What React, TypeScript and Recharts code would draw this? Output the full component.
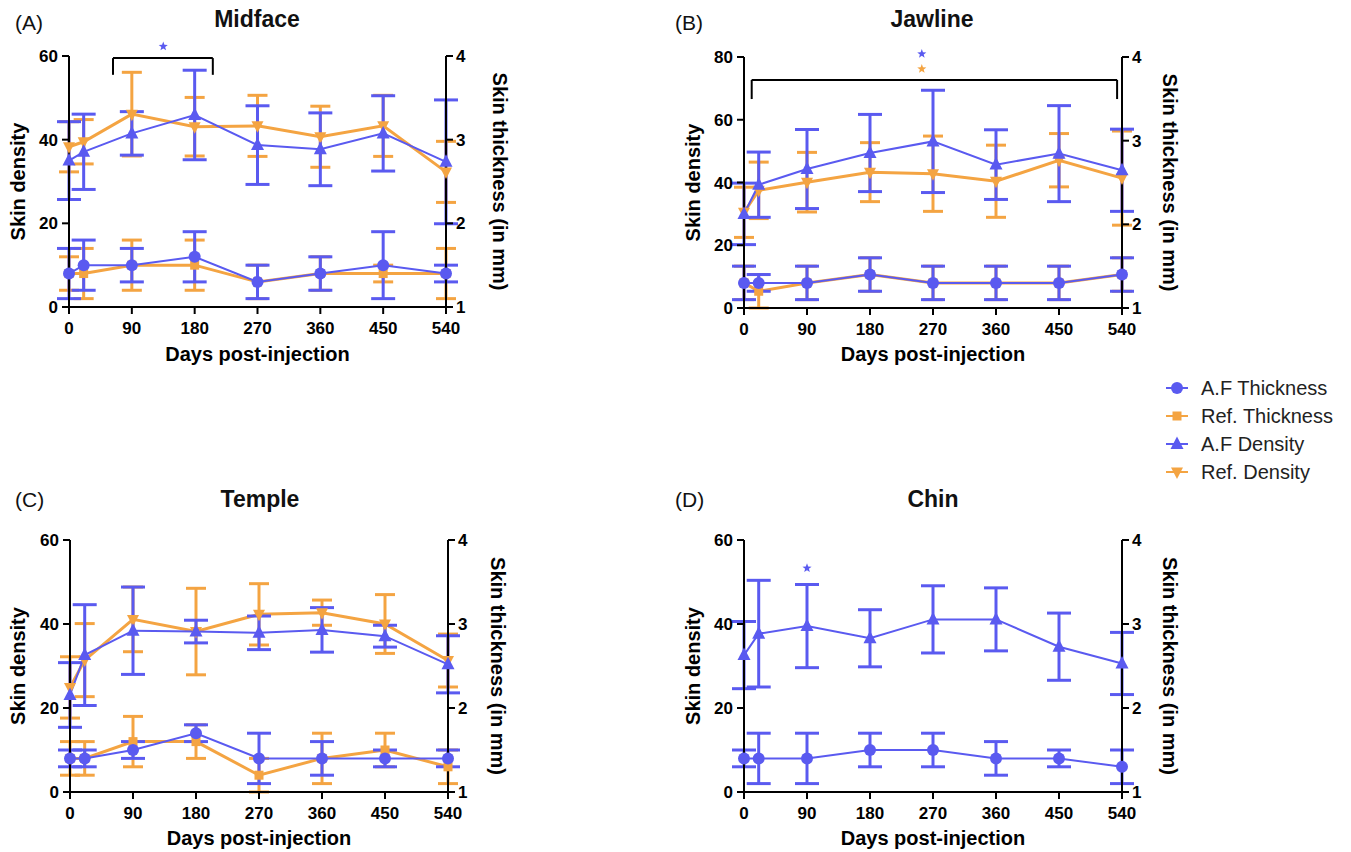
import React from 'react';
import { ComposedChart, Line, XAxis, YAxis, ErrorBar, ReferenceLine, ReferenceDot } from 'recharts';

// ---------- shared categories / ticks ----------
const days = [0, 21, 90, 180, 270, 360, 450, 540];
const xTicks = [0, 90, 180, 270, 360, 450, 540];
const densityTicks60 = [0, 20, 40, 60];
const densityTicks80 = [0, 20, 40, 60, 80];
const thicknessTicks = [1, 2, 3, 4];

// ---------- (A) Midface ----------
const midAfThickness = [1.4, 1.5, 1.5, 1.6, 1.3, 1.4, 1.5, 1.4];
const midAfThicknessSd = [0.3, 0.3, 0.2, 0.3, 0.2, 0.2, 0.4, 0.1];
const midRefThickness = [1.4, 1.4, 1.5, 1.5, 1.3, 1.4, 1.4, 1.4];
const midRefThicknessSd = [0.2, 0.3, 0.3, 0.3, 0.2, 0.2, 0.1, 0.3];
const midAfDensity = [35, 37.1, 41.5, 45.9, 38.7, 37.7, 41.5, 34.7];
const midAfDensitySd = [9.3, 9, 5.2, 10.7, 9.4, 8.7, 9, 14.8];
const midRefDensity = [38.3, 39.5, 46.1, 43.1, 43.3, 40.7, 43.3, 32.3];
const midRefDensitySd = [6, 5.3, 10, 7, 7.3, 7.3, 7.3, 7.3];

// ---------- (B) Jawline ----------
const jawAfThickness = [1.3, 1.3, 1.3, 1.4, 1.3, 1.3, 1.3, 1.4];
const jawAfThicknessSd = [0.2, 0.1, 0.2, 0.2, 0.2, 0.2, 0.2, 0.2];
const jawRefThickness = [1.3, 1.2, 1.3, 1.4, 1.3, 1.3, 1.3, 1.4];
const jawRefThicknessSd = [0.2, 0.2, 0.2, 0.2, 0.2, 0.2, 0.2, 0.2];
const jawAfDensity = [30, 39.3, 44.3, 49.4, 53.1, 45.7, 49.2, 43.9];
const jawAfDensitySd = [9.8, 10.4, 12.6, 12.3, 16.3, 11.1, 15.3, 13.1];
const jawRefDensity = [30.5, 37.5, 40.1, 43.3, 42.8, 40.4, 47.1, 41.4];
const jawRefDensitySd = [8, 9, 9.5, 9.4, 12, 11.5, 8.5, 15];

// ---------- (C) Temple ----------
const temAfThickness = [1.4, 1.4, 1.5, 1.7, 1.4, 1.4, 1.4, 1.4];
const temAfThicknessSd = [0.1, 0.1, 0.1, 0.1, 0.3, 0.2, 0.1, 0.1];
const temRefThickness = [1.4, 1.4, 1.6, 1.6, 1.2, 1.4, 1.5, 1.3];
const temRefThicknessSd = [0.2, 0.2, 0.3, 0.2, 0.2, 0.3, 0.2, 0.2];
const temAfDensity = [23.1, 32.6, 38.4, 38.2, 37.9, 38.6, 37.1, 30.4];
const temAfDensitySd = [7.7, 12, 10.4, 2.7, 4, 5.3, 2.6, 6.8];
const temRefDensity = [24.9, 31.4, 41.1, 38.2, 42.3, 42.7, 40, 31.3];
const temRefDensitySd = [7.3, 8.7, 7.7, 10.3, 7.3, 3, 7, 6.3];

// ---------- (D) Chin ----------
const chinAfThickness = [1.4, 1.4, 1.4, 1.5, 1.5, 1.4, 1.4, 1.3];
const chinAfThicknessSd = [0.1, 0.3, 0.3, 0.2, 0.2, 0.2, 0.1, 0.2];
const chinAfDensity = [32.6, 37.7, 39.5, 36.6, 41.1, 41.1, 34.6, 30.6];
const chinAfDensitySd = [8, 12.7, 9.9, 6.8, 8, 7.5, 8, 7.4];

// ---------- style ----------
const BLUE = '#5A5AF0';
const ORANGE = '#F4A442';
const FONT = '"Liberation Sans", Arial, Helvetica, sans-serif';

type Shape = 'circle' | 'square' | 'up' | 'down';

const seriesDefs = [
  { key: 'refT', name: 'Ref. Thickness', color: ORANGE, shape: 'square' as Shape, axis: 't', lw: 3, cap: 10, ref: true },
  { key: 'refD', name: 'Ref. Density', color: ORANGE, shape: 'down' as Shape, axis: 'd', lw: 3, cap: 10, ref: true },
  { key: 'afT', name: 'A.F Thickness', color: BLUE, shape: 'circle' as Shape, axis: 't', lw: 2, cap: 12, ref: false },
  { key: 'afD', name: 'A.F Density', color: BLUE, shape: 'up' as Shape, axis: 'd', lw: 2, cap: 12, ref: false },
];
const legendOrder = ['afT', 'refT', 'afD', 'refD'];

function buildRows(
  afT: number[], afTsd: number[], refT: number[] | null, refTsd: number[] | null,
  afD: number[], afDsd: number[], refD: number[] | null, refDsd: number[] | null
) {
  return days.map((day, i) => ({
    day,
    afT: afT[i], afTsd: afTsd[i],
    afD: afD[i], afDsd: afDsd[i],
    refT: refT ? refT[i] : null, refTsd: refTsd ? refTsd[i] : null,
    refD: refD ? refD[i] : null, refDsd: refDsd ? refDsd[i] : null,
  }));
}

function Marker({ shape, cx, cy, color }: { shape: Shape; cx?: number; cy?: number; color: string }) {
  if (cx == null || cy == null || isNaN(cx) || isNaN(cy)) return null;
  switch (shape) {
    case 'circle':
      return <circle cx={cx} cy={cy} r={6} fill={color} />;
    case 'square':
      return <rect x={cx - 4.5} y={cy - 4.5} width={9} height={9} fill={color} />;
    case 'up':
      return <path d={`M${cx},${cy - 7.5} L${cx + 6.5},${cy + 5} L${cx - 6.5},${cy + 5} Z`} fill={color} />;
    case 'down':
      return <path d={`M${cx},${cy + 7} L${cx + 6},${cy - 4.5} L${cx - 6},${cy - 4.5} Z`} fill={color} />;
  }
  return null;
}

function Star(props: any) {
  const { cx, cy, fill } = props;
  if (cx == null || cy == null) return null;
  const pts: string[] = [];
  for (let k = 0; k < 10; k++) {
    const r = k % 2 === 0 ? 4.8 : 2.0;
    const a = -Math.PI / 2 + (k * Math.PI) / 5;
    pts.push(`${cx + r * Math.cos(a)},${cy + r * Math.sin(a)}`);
  }
  return <polygon points={pts.join(' ')} fill={fill} />;
}

type Bracket = { x1: number; x2: number; y: number; yEnd: number };
type StarDef = { x: number; y: number; color: string };

type PanelCfg = {
  left: number; top: number; width: number; height: number;
  marginTop: number; leftW: number; rightW: number; xAxisH: number;
  xLabelOffset: number; leftLabelOffset: number; rightLabelOffset: number;
  yMax: number; yTicks: number[];
  brackets: Bracket[]; stars: StarDef[];
};

const tickStyle = { fill: '#000', fontSize: 17, fontWeight: 'bold' as const, fontFamily: FONT };
const axisLabelStyle = { fill: '#000', fontSize: 20, fontWeight: 'bold' as const, fontFamily: FONT };

function Panel({ cfg, rows, hasRef }: { cfg: PanelCfg; rows: any[]; hasRef: boolean }) {
  const axisLine = { stroke: '#000', strokeWidth: 2 };
  return (
    <div style={{ position: 'absolute', left: cfg.left, top: cfg.top }}>
      <ComposedChart
        width={cfg.width}
        height={cfg.height}
        data={rows}
        margin={{ top: cfg.marginTop, right: 0, bottom: 0, left: 0 }}
      >
        <XAxis
          dataKey="day"
          type="number"
          domain={[0, 540]}
          ticks={xTicks}
          height={cfg.xAxisH}
          axisLine={axisLine}
          tickLine={axisLine}
          tickSize={7}
          tickMargin={8}
          tick={tickStyle}
          interval={0}
          label={{
            value: 'Days post-injection',
            position: 'insideBottom',
            offset: cfg.xLabelOffset,
            ...axisLabelStyle,
          }}
        />
        <YAxis
          yAxisId="d"
          orientation="left"
          type="number"
          domain={[0, cfg.yMax]}
          ticks={cfg.yTicks}
          allowDataOverflow
          width={cfg.leftW}
          axisLine={axisLine}
          tickLine={axisLine}
          tickSize={7}
          tickMargin={4}
          tick={tickStyle}
          interval={0}
          label={{
            value: 'Skin density',
            angle: -90,
            position: 'insideLeft',
            offset: cfg.leftLabelOffset,
            style: { textAnchor: 'middle' },
            ...axisLabelStyle,
          }}
        />
        <YAxis
          yAxisId="t"
          orientation="right"
          type="number"
          domain={[1, 4]}
          ticks={thicknessTicks}
          allowDataOverflow
          width={cfg.rightW}
          axisLine={axisLine}
          tickLine={axisLine}
          tickSize={7}
          tickMargin={3}
          tick={tickStyle}
          interval={0}
          label={{
            value: 'Skin thickness (in mm)',
            angle: 90,
            position: 'insideRight',
            offset: cfg.rightLabelOffset,
            style: { textAnchor: 'middle' },
            ...axisLabelStyle,
          }}
        />
        {seriesDefs
          .filter((s) => hasRef || !s.ref)
          .map((s) => (
            <Line
              key={s.key}
              yAxisId={s.axis}
              dataKey={s.key}
              type="linear"
              stroke={s.color}
              strokeWidth={s.lw}
              isAnimationActive={false}
              dot={(p: any) => (
                <Marker key={`${s.key}-${p.index}`} shape={s.shape} cx={p.cx} cy={p.cy} color={s.color} />
              )}
              activeDot={false}
            >
              <ErrorBar
                dataKey={`${s.key}sd`}
                width={s.cap}
                stroke={s.color}
                strokeWidth={3}
                direction="y"
                isAnimationActive={false}
              />
            </Line>
          ))}
        {cfg.brackets.map((b, i) => [
          <ReferenceLine key={`bh${i}`} yAxisId="d" ifOverflow="visible" stroke="#000" strokeWidth={2}
            segment={[{ x: b.x1, y: b.y }, { x: b.x2, y: b.y }]} />,
          <ReferenceLine key={`bl${i}`} yAxisId="d" ifOverflow="visible" stroke="#000" strokeWidth={2}
            segment={[{ x: b.x1, y: b.y }, { x: b.x1, y: b.yEnd }]} />,
          <ReferenceLine key={`br${i}`} yAxisId="d" ifOverflow="visible" stroke="#000" strokeWidth={2}
            segment={[{ x: b.x2, y: b.y }, { x: b.x2, y: b.yEnd }]} />,
        ])}
        {cfg.stars.map((st, i) => (
          <ReferenceDot key={`st${i}`} yAxisId="d" x={st.x} y={st.y} r={0} ifOverflow="visible"
            fill={st.color} stroke="none" shape={(p: any) => <Star {...p} fill={st.color} />} />
        ))}
      </ComposedChart>
    </div>
  );
}

const panelA: PanelCfg = {
  left: 0, top: 0, width: 530, height: 366, marginTop: 56, leftW: 69, rightW: 84, xAxisH: 59,
  xLabelOffset: 5, leftLabelOffset: 18, rightLabelOffset: 30, yMax: 60, yTicks: densityTicks60,
  brackets: [{ x1: 63, x2: 206, y: 59.5, yEnd: 55.5 }],
  stars: [{ x: 135, y: 62.3, color: BLUE }],
};
const panelB: PanelCfg = {
  left: 660, top: 0, width: 540, height: 366, marginTop: 57, leftW: 84, rightW: 78, xAxisH: 58,
  xLabelOffset: 5, leftLabelOffset: 33, rightLabelOffset: 30, yMax: 80, yTicks: densityTicks80,
  brackets: [{ x1: 11, x2: 533, y: 72.7, yEnd: 66.6 }],
  stars: [{ x: 254, y: 81, color: BLUE }, { x: 254, y: 76.2, color: ORANGE }],
};
const panelC: PanelCfg = {
  left: 0, top: 460, width: 530, height: 392, marginTop: 80, leftW: 70, rightW: 82, xAxisH: 60,
  xLabelOffset: 7, leftLabelOffset: 18, rightLabelOffset: 32, yMax: 60, yTicks: densityTicks60,
  brackets: [], stars: [],
};
const panelD: PanelCfg = {
  left: 660, top: 460, width: 540, height: 392, marginTop: 80, leftW: 84, rightW: 78, xAxisH: 60,
  xLabelOffset: 7, leftLabelOffset: 33, rightLabelOffset: 30, yMax: 60, yTicks: densityTicks60,
  brackets: [], stars: [{ x: 90, y: 53.3, color: BLUE }],
};

const titles = [
  { letter: '(A)', lx: 15, ly: 30, name: 'Midface', tx: 257, ty: 27 },
  { letter: '(B)', lx: 675, ly: 30, name: 'Jawline', tx: 932, ty: 27 },
  { letter: '(C)', lx: 15, ly: 507, name: 'Temple', tx: 260, ty: 507 },
  { letter: '(D)', lx: 675, ly: 507, name: 'Chin', tx: 933, ty: 507 },
];

export default function App() {
  const rowsA = buildRows(midAfThickness, midAfThicknessSd, midRefThickness, midRefThicknessSd,
    midAfDensity, midAfDensitySd, midRefDensity, midRefDensitySd);
  const rowsB = buildRows(jawAfThickness, jawAfThicknessSd, jawRefThickness, jawRefThicknessSd,
    jawAfDensity, jawAfDensitySd, jawRefDensity, jawRefDensitySd);
  const rowsC = buildRows(temAfThickness, temAfThicknessSd, temRefThickness, temRefThicknessSd,
    temAfDensity, temAfDensitySd, temRefDensity, temRefDensitySd);
  const rowsD = buildRows(chinAfThickness, chinAfThicknessSd, null, null,
    chinAfDensity, chinAfDensitySd, null, null);

  return (
    <div style={{ position: 'absolute', left: 0, top: 0, width: 1351, height: 852, background: '#fff', fontFamily: FONT }}>
      <Panel cfg={panelA} rows={rowsA} hasRef />
      <Panel cfg={panelB} rows={rowsB} hasRef />
      <Panel cfg={panelC} rows={rowsC} hasRef />
      <Panel cfg={panelD} rows={rowsD} hasRef={false} />
      <svg width={1351} height={852} style={{ position: 'absolute', left: 0, top: 0, pointerEvents: 'none' }}>
        {titles.map((t) => (
          <g key={t.name}>
            <text x={t.lx} y={t.ly} fontSize={21} fontFamily={FONT} fill="#111">{t.letter}</text>
            <text x={t.tx} y={t.ty} fontSize={23} fontWeight="bold" fontFamily={FONT} fill="#111" textAnchor="middle">{t.name}</text>
          </g>
        ))}
        {legendOrder.map((k, i) => {
          const s = seriesDefs.find((d) => d.key === k)!;
          const cy = 388 + i * 28;
          return (
            <g key={k}>
              <line x1={1166} x2={1188} y1={cy} y2={cy} stroke={s.color} strokeWidth={2} />
              <Marker shape={s.shape} cx={1177} cy={cy} color={s.color} />
              <text x={1201} y={cy + 7} fontSize={20} fontFamily={FONT} fill="#222">{s.name}</text>
            </g>
          );
        })}
      </svg>
    </div>
  );
}
